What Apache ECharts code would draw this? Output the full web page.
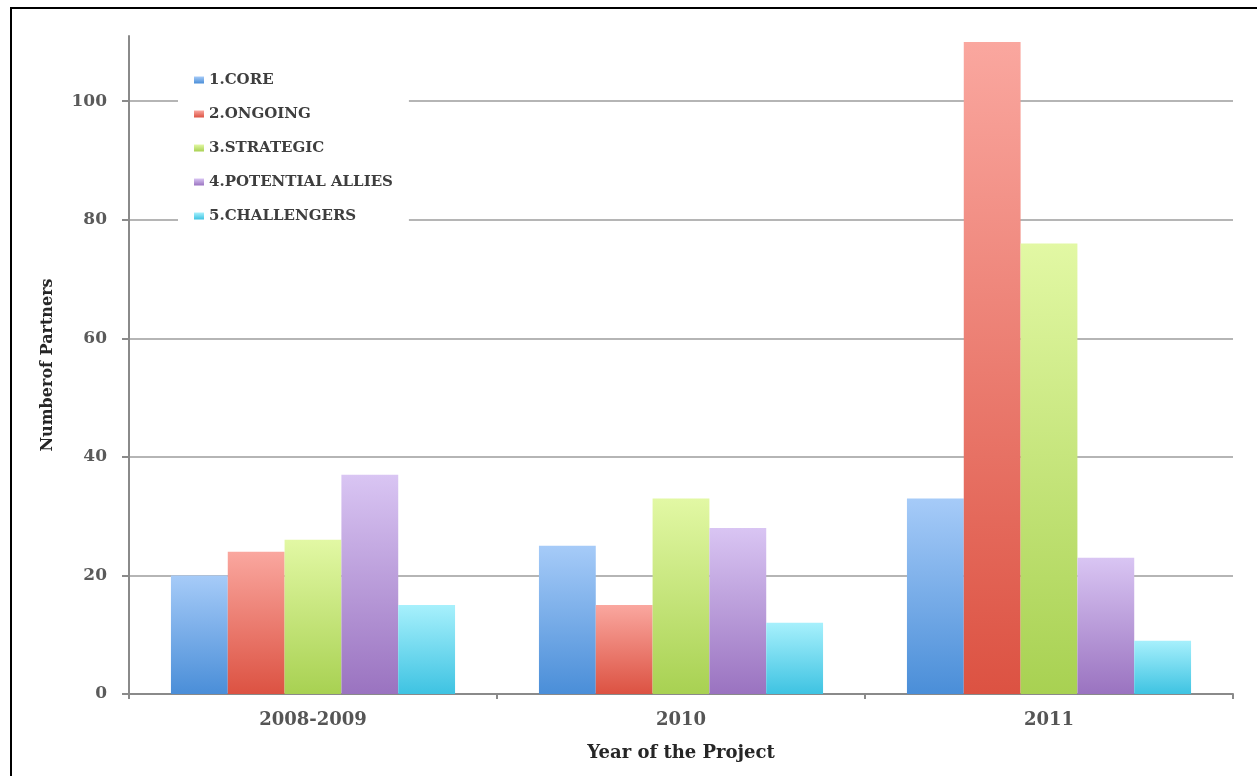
<!DOCTYPE html>
<html>
<head>
<meta charset="utf-8">
<script src="https://cdn.jsdelivr.net/npm/echarts@6/dist/echarts.min.js"></script>
<style>
  html, body { margin: 0; padding: 0; background: #fff; overflow: hidden; width: 1257px; height: 776px; }
  #frame { position: absolute; left: 10px; top: 7px; width: 1247px; height: 769px; box-sizing: border-box;
           border-top: 2px solid #000; border-left: 2px solid #000; }
  #chart { position: absolute; left: 0; top: 0; width: 1257px; height: 776px; }
</style>
</head>
<body>
<div id="frame"></div>
<div id="chart"></div>
<script>
const categories = ['2008-2009', '2010', '2011'];
const seriesNames = ['1.CORE', '2.ONGOING', '3.STRATEGIC', '4.POTENTIAL ALLIES', '5.CHALLENGERS'];
const coreValues = [20, 25, 33];
const ongoingValues = [24, 15, 110];
const strategicValues = [26, 33, 76];
const potentialAlliesValues = [37, 28, 23];
const challengersValues = [15, 12, 9];
const yTicks = [0, 20, 40, 60, 80, 100];

const seriesValues = [coreValues, ongoingValues, strategicValues, potentialAlliesValues, challengersValues];
const gradients = [
  ['#a6cbf8', '#4a8ed8'],
  ['#faa79f', '#dc5242'],
  ['#e2f8a4', '#a8d152'],
  ['#d9c5f3', '#9a73c0'],
  ['#a7f0fc', '#3ec3e2']
];
const FONT = 'DejaVu Serif';

const chart = echarts.init(document.getElementById('chart'), null, { renderer: 'canvas' });
chart.setOption({
  animation: false,
  textStyle: { fontFamily: FONT },
  grid: { left: 129, right: 24, top: 36, bottom: 82, containLabel: false },
  legend: {
    orient: 'vertical',
    left: 178,
    top: 61,
    padding: [10, 16, 10, 16],
    backgroundColor: '#ffffff',
    itemWidth: 10,
    itemHeight: 7,
    itemGap: 16,
    itemTextGap: 6,
    icon: 'rect',
    textStyle: { fontFamily: FONT, fontSize: 15, fontWeight: 'bold', color: '#3e3e3e', lineHeight: 18 },
    data: seriesNames
  },
  xAxis: {
    type: 'category',
    data: categories,
    name: 'Year of the Project',
    nameLocation: 'middle',
    nameGap: 50,
    nameTextStyle: { fontFamily: FONT, fontSize: 18, fontWeight: 'bold', color: '#262626' },
    axisLine: { lineStyle: { color: '#8a8a8a', width: 2 } },
    axisTick: { show: true, alignWithLabel: false, length: 5, lineStyle: { color: '#8a8a8a', width: 2 } },
    axisLabel: { fontFamily: FONT, fontSize: 18, fontWeight: 'bold', color: '#555555', margin: 17 },
    splitLine: { show: false }
  },
  yAxis: {
    type: 'value',
    min: yTicks[0],
    max: 111,
    interval: yTicks[1] - yTicks[0],
    name: 'Numberof Partners',
    nameLocation: 'middle',
    nameGap: 73,
    nameTextStyle: { fontFamily: FONT, fontSize: 16, fontWeight: 'bold', color: '#262626' },
    axisLine: { show: true, lineStyle: { color: '#8a8a8a', width: 2 } },
    axisTick: { show: true, length: 7, lineStyle: { color: '#8a8a8a', width: 2 } },
    axisLabel: { fontFamily: FONT, fontSize: 17, fontWeight: 'bold', color: '#5a5a5a', margin: 22, showMaxLabel: false },
    splitLine: { show: true, showMaxLine: false, lineStyle: { color: '#9c9c9c', width: 1.5 } }
  },
  series: seriesNames.map((name, i) => ({
    name: name,
    type: 'bar',
    data: seriesValues[i],
    barGap: '0%',
    barCategoryGap: '22.8%',
    itemStyle: {
      color: new echarts.graphic.LinearGradient(0, 0, 0, 1, [
        { offset: 0, color: gradients[i][0] },
        { offset: 1, color: gradients[i][1] }
      ])
    }
  }))
});
</script>
</body>
</html>
